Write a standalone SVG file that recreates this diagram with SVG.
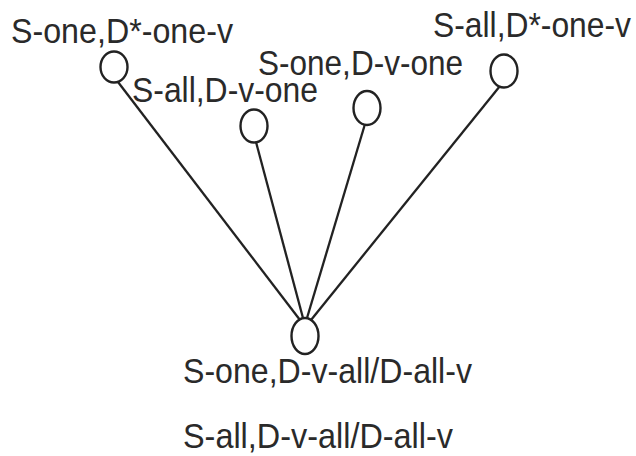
<svg xmlns="http://www.w3.org/2000/svg" width="636" height="456" viewBox="0 0 636 456">
  <style>
    .node { fill: #ffffff; stroke: #222222; stroke-width: 2.4; }
    .edge { stroke: #222222; stroke-width: 2.3; fill: none; }
    .label { font-family: "Liberation Sans", Arial, sans-serif; font-size: 35px; fill: #2a2a2a; }
  </style>
  <rect width="636" height="456" fill="#ffffff"/>

  <!-- connectors: each upper node joins the bottom node -->
  <g id="edges">
    <line class="edge" x1="118" y1="82" x2="300" y2="320"/>
    <line class="edge" x1="256" y1="142" x2="303" y2="318"/>
    <line class="edge" x1="365" y1="124" x2="307" y2="318"/>
    <line class="edge" x1="500" y1="86" x2="311" y2="320"/>
  </g>

  <g id="n1">
    <ellipse class="node" cx="114" cy="67" rx="13.5" ry="15.5"/>
    <text class="label" x="11" y="43" textLength="222" lengthAdjust="spacingAndGlyphs">S-one,D*-one-v</text>
  </g>

  <g id="n2">
    <ellipse class="node" cx="254" cy="126" rx="13.5" ry="16.5"/>
    <text class="label" x="132" y="102" textLength="186" lengthAdjust="spacingAndGlyphs">S-all,D-v-one</text>
  </g>

  <g id="n3">
    <ellipse class="node" cx="367" cy="108" rx="13.5" ry="17"/>
    <text class="label" x="258" y="75" textLength="205" lengthAdjust="spacingAndGlyphs">S-one,D-v-one</text>
  </g>

  <g id="n4">
    <ellipse class="node" cx="504" cy="71" rx="13.5" ry="16.5"/>
    <text class="label" x="433" y="37" textLength="198" lengthAdjust="spacingAndGlyphs">S-all,D*-one-v</text>
  </g>

  <g id="n5">
    <ellipse class="node" cx="305" cy="336" rx="13.5" ry="18"/>
    <text class="label" x="183" y="383" textLength="289" lengthAdjust="spacingAndGlyphs">S-one,D-v-all/D-all-v</text>
    <text class="label" x="183" y="448" textLength="270" lengthAdjust="spacingAndGlyphs">S-all,D-v-all/D-all-v</text>
  </g>
</svg>
